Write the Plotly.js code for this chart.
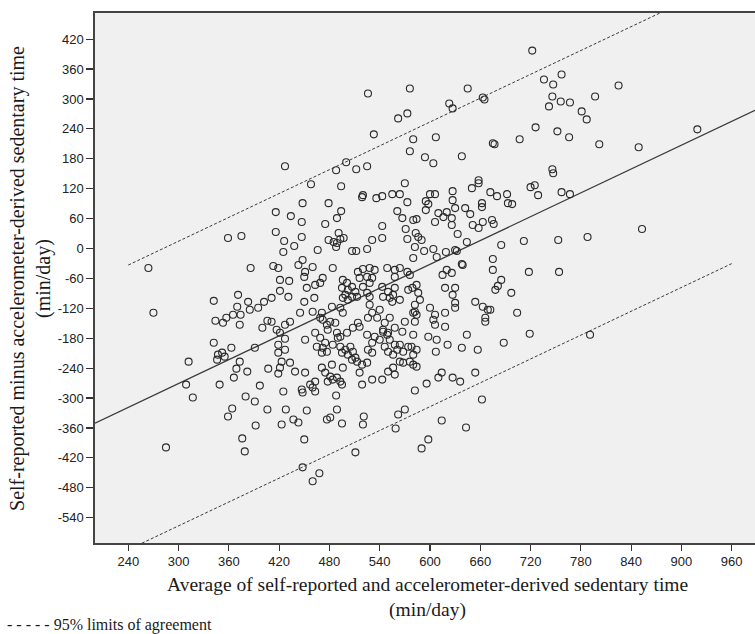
<!DOCTYPE html>
<html>
<head>
<meta charset="utf-8">
<script src="https://cdn.plot.ly/plotly-3.0.1.min.js"></script>
<style>
html,body{margin:0;padding:0;background:#fff;overflow:hidden;}
#chart{width:755px;height:634px;}
</style>
</head>
<body>
<div id="chart"></div>
<script>
// Average of self-reported and accelerometer-derived sedentary time (min/day)
const meanLeft = [427,416,434,416,426,438,425,359,375,264,386,413,419,443,448,
  421,432,342,371,370,383,385,395,402,411,421,431,270,344,357,353,365,374,373,400,
  406,411,417,421,427,433,445,342,347,352,355,346,363,391,419,427,312,373,369,366,
  382,407,419,419,427,423,433,421,439,309,317,349,397,380,391,425,364,359,406,428,
  392,423,437,443,285,376,379];
// Self-reported minus accelerometer-derived sedentary time (min/day)
const diffLeft = [165,73,65,33,15,5,-7,21,25,-39,-39,-35,-39,-33,-23,
  -63,-65,-105,-93,-117,-107,-123,-119,-107,-99,-85,-97,-129,-145,-139,-149,-133,-133,-153,-159,
  -145,-147,-163,-169,-153,-147,-129,-189,-213,-209,-217,-223,-199,-199,-193,-181,-227,-227,-241,-259,
  -247,-241,-251,-209,-203,-227,-229,-239,-247,-273,-299,-273,-275,-297,-307,-287,-321,-337,-323,-323,
  -355,-353,-343,-349,-399,-381,-407];

const meanUpper = [526,576,645,623,627,663,665,562,573,533, 580,607,576,594,604,638,500,488,512,525,
  458,494,570,658,658,650,448,479,519,520, 536,543,555,564,573,595,598,600,606,595,
  627,627,630,620,626,642,648,662,662,663, 658,651,447,475,489,494,479,488,485,491,
  493,497,489,447,466,507,512,525,531,543, 543,561,567,580,584,571,583,586,573,590,
  582,580,593,604,608,619,630,632,606,610, 616,626,633,644,675,638];
const diffUpper = [311,321,321,291,281,303,299,261,271,229, 219,223,195,183,171,185,173,157,159,165,
  129,125,131,137,131,121,91,91,103,107, 101,105,109,109,93,95,89,109,109,77,
  115,97,81,73,61,81,69,91,83,53, 41,47,53,49,61,75,17,3,13,31,
  19,21,11,23,-3,-5,-5,-1,17,45, 21,75,61,57,59,39,31,23,19,17,
  3,-19,-5,-1,-17,-7,-3,-5,53,71, 63,47,29,13,-21,-31];

const meanRight = [722,736,747,757,825,746,756,767,742,797, 781,787,726,707,752,766,802,849,919,675,
  677,746,747,672,680,692,693,698,720,725, 729,757,767,674,676,685,712,753,788,853,
  675,718,754,685,681,678,697,672,704,719,688,791];
const diffRight = [397,339,329,349,327,305,295,293,285,305, 275,259,243,219,235,223,209,203,239,211,
  209,159,151,113,105,109,91,89,123,127, 107,113,109,57,49,7,15,17,23,39,
  -43,-47,-47,-63,-75,-83,-89,-123,-129,-171,-189,-173];

const meanCore = [451,450,460,484,514,520,528,534,525,516,
  531,549,558,564,573,558,576,615,620,626, 639,472,469,463,453,496,501,495,502,507,
  511,499,507,513,502,496,520,528,525,528, 543,550,544,552,556,558,574,579,584,586,
  588,582,618,630,627,630,630,654,663,669, 666,666,450,462,483,471,469,472,477,481,
  478,487,460,496,493,514,516,508,501,528, 540,531,526,537,552,546,544,550,558,567,
  555,564,570,580,582,584,582,580,600,606, 604,606,618,618,598,608,621,638,657,644,
  607,578,584,580,576,564,568,574,552,558, 546,550,556,561,549,544,540,525,531,534,
  526,531,505,508,511,513,502,499,507,493, 495,484,490,489,493,469,475,472,465,463,
  477,471,451,471,475,481,478,484,489,493, 495,483,496,519,525,516,519,531,543,550,
  556,558,564,568,580,584,451,463,457,447, 448,460,463,488,453,489,477,481,495,521,
  520,450,511,448,468,460,582,596,610,614, 627,636,654,662,562,570,559,614,643,598,
  590];
const diffCore = [-47,-57,-37,-39,-47,-41,-39,-43,-57,-59,
  -59,-39,-43,-39,-47,-57,-53,-53,-43,-49, -33,-59,-69,-73,-79,-63,-69,-79,-83,-77,
  -87,-93,-97,-97,-103,-99,-77,-69,-89,-97, -77,-87,-97,-99,-93,-79,-83,-79,-73,-89,
  -103,-113,-79,-79,-93,-109,-119,-107,-117,-123, -139,-147,-107,-99,-117,-129,-139,-143,-153,-147,
  -163,-149,-127,-129,-119,-149,-157,-159,-169,-113, -123,-129,-139,-139,-139,-149,-163,-169,-159,-167,
  -107,-103,-147,-129,-127,-133,-147,-173,-119,-133, -143,-153,-129,-157,-177,-183,-193,-199,-203,-173,
  -207,-197,-203,-213,-227,-193,-207,-197,-183,-193, -197,-207,-213,-203,-173,-167,-183,-173,-189,-177,
  -203,-209,-197,-207,-219,-227,-213,-203,-223,-197, -209,-193,-179,-169,-177,-179,-189,-199,-197,-169,
  -207,-209,-183,-239,-249,-257,-267,-263,-259,-267, -273,-233,-239,-233,-229,-249,-273,-263,-263,-247,
  -239,-253,-227,-229,-233,-237,-249,-267,-273,-283, -289,-279,-287,-295,-325,-323,-343,-339,-351,-337,
  -353,-383,-409,-439,-451,-467,-285,-271,-259,-249, -259,-267,-249,-303,-333,-323,-361,-345,-359,-383,
  -401];

// Regression of difference on average, and 95% limits of agreement
const biasIntercept = -510;
const biasSlope = 0.797;
const loaHalfWidth = 285.5;
const loaSpan = [240, 960];

// Axes
const xRange = [200.3, 987.8];
const yRange = [-590.8, 472.4];
const xTickVals = [240,300,360,420,480,540,600,660,720,780,840,900,960];
const yTickVals = [-540,-480,-420,-360,-300,-240,-180,-120,-60,0,60,120,180,240,300,360,420];
const yTickText = ['-540','-480','-420','-360','-300','-240','-180','-120','-60','0','60','120','180','240','300','360','420'];

const meanTime = meanLeft.concat(meanUpper, meanRight, meanCore);
const diffTime = diffLeft.concat(diffUpper, diffRight, diffCore);

const fit = x => biasIntercept + biasSlope * x;

const traces = [
  {
    type: 'scatter', mode: 'lines', x: xRange, y: xRange.map(fit),
    line: {color: '#3a3a3a', width: 1.3}, hoverinfo: 'skip'
  },
  {
    type: 'scatter', mode: 'lines', x: loaSpan, y: loaSpan.map(x => fit(x) + loaHalfWidth),
    line: {color: '#3a3a3a', width: 1, dash: '3px,2px'}, hoverinfo: 'skip'
  },
  {
    type: 'scatter', mode: 'lines', x: loaSpan, y: loaSpan.map(x => fit(x) - loaHalfWidth),
    line: {color: '#3a3a3a', width: 1, dash: '3px,2px'}, hoverinfo: 'skip'
  },
  {
    type: 'scatter', mode: 'markers', x: meanTime, y: diffTime,
    marker: {symbol: 'circle-open', size: 7, color: '#2a2a2a', line: {width: 1.1, color: '#2a2a2a'}},
    cliponaxis: true
  }
];

const serif = 'Liberation Serif, Times New Roman, serif';
const sans = 'Liberation Sans, Arial, sans-serif';

const layout = {
  width: 755, height: 634,
  margin: {l: 95, r: 0, t: 13, b: 91},
  paper_bgcolor: '#ffffff',
  plot_bgcolor: '#f0f0f0',
  showlegend: false,
  xaxis: {
    range: xRange, tickvals: xTickVals, ticks: 'outside', ticklen: 6, tickwidth: 1.2,
    tickcolor: '#333', showgrid: false, zeroline: false,
    showline: true, mirror: true, linecolor: '#444', linewidth: 1.6,
    tickfont: {family: sans, size: 13, color: '#222'}
  },
  yaxis: {
    range: yRange, tickvals: yTickVals, ticktext: yTickText, ticks: 'outside', ticklen: 7, tickwidth: 1.2,
    tickcolor: '#333', showgrid: false, zeroline: false,
    showline: true, linecolor: '#444', linewidth: 1.6,
    tickfont: {family: sans, size: 13, color: '#222'}
  },
  annotations: [
    {
      text: 'Average of self-reported and accelerometer-derived sedentary time<br>(min/day)',
      xref: 'paper', yref: 'paper', x: 0.5045, y: -0.103, xanchor: 'center', yanchor: 'middle',
      showarrow: false, font: {family: serif, size: 19.5, color: '#1a1a1a'}
    },
    {
      text: 'Self-reported minus accelerometer-derived sedentary time<br>(min/day)',
      xref: 'paper', yref: 'paper', x: -0.0985, y: 0.5, xanchor: 'center', yanchor: 'middle',
      textangle: -90, showarrow: false, font: {family: serif, size: 20, color: '#1a1a1a'}
    },
    {
      text: '- - - - - 95% limits of agreement',
      xref: 'paper', yref: 'paper', x: -0.136, y: -0.154, xanchor: 'left', yanchor: 'middle',
      showarrow: false, font: {family: serif, size: 16, color: '#1a1a1a'}
    }
  ]
};

Plotly.newPlot('chart', traces, layout, {displayModeBar: false, staticPlot: true});
</script>
</body>
</html>
